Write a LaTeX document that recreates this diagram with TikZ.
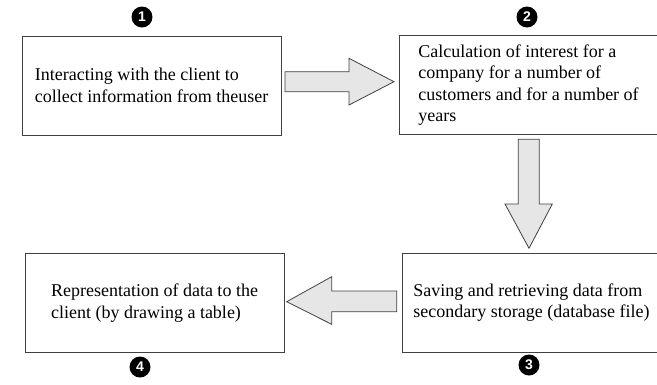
\documentclass[tikz,border=0pt]{standalone}
\usepackage{fontspec}
\setmainfont{Liberation Serif}
\newfontfamily\numfont{Liberation Sans}
\definecolor{boxline}{HTML}{404040}
\definecolor{arrfill}{HTML}{E6E6E6}
\begin{document}
\begin{tikzpicture}[x=1pt,y=-1pt,
  stepbox/.style={draw=boxline,line width=0.9pt,minimum width=259pt,minimum height=99pt,
    align=left,inner sep=0pt,font=\fontsize{18}{21.5}\selectfont},
  blockarrow/.style={draw=boxline,fill=arrfill,line width=0.8pt,line join=miter},
  numdot/.style={circle,fill=black,minimum size=21pt,inner sep=0pt,text=white,
    font=\numfont\bfseries\fontsize{14}{14}\selectfont}]
\useasboundingbox (0,0) rectangle (657,384);
\node[stepbox] (b1) at (151.5,85.5) {Interacting with the client to\\collect information from theuser};
\node[stepbox] (b2) at (528.5,85) {Calculation of interest for a\\company for a number of\\customers and for a number of\\years};
\node[stepbox] (b3) at (531.5,302.5) {Saving and retrieving data from\\secondary storage (database file)};
\node[stepbox] (b4) at (154.5,303) {Representation of data to the\\client (by drawing a table)};
\node[numdot] (n1) at (142,17) {1};
\node[numdot] (n2) at (527,17) {2};
\node[numdot] (n3) at (529,365) {3};
\node[numdot] (n4) at (140,367) {4};
\draw[blockarrow] (285,71.7) -- (349,71.7) -- (349,58.3) -- (394,81.7) -- (349,105) -- (349,91.7) -- (285,91.7) -- cycle;
\draw[blockarrow] (518.3,139.3) -- (539.3,139.3) -- (539.3,204) -- (552.3,204) -- (529,248.3) -- (505,204) -- (518.3,204) -- cycle;
\draw[blockarrow] (286.7,301.7) -- (331.7,276.7) -- (331.7,291) -- (396.7,291) -- (396.7,311.7) -- (331.7,311.7) -- (331.7,324.3) -- cycle;
\end{tikzpicture}
\end{document}
